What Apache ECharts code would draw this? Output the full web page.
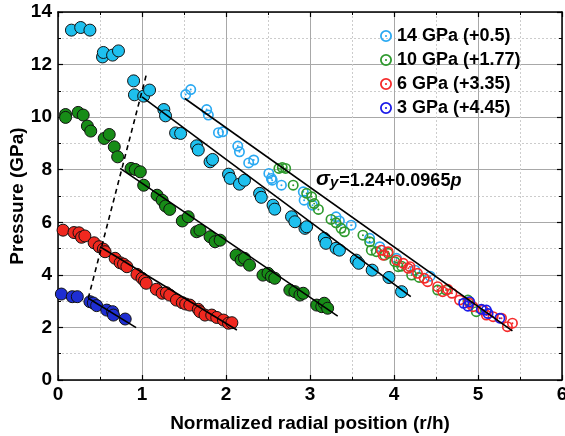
<!DOCTYPE html>
<html>
<head>
<meta charset="utf-8">
<script src="https://cdn.jsdelivr.net/npm/echarts@6/dist/echarts.min.js"></script>
<style>html,body{margin:0;padding:0;background:#fff}#c{width:565px;height:436px}</style>
</head>
<body>
<div id="c"></div>
<script>
// ---- data ----
const legendNames = ['14 GPa (+0.5)', '10 GPa (+1.77)', '6 GPa (+3.35)', '3 GPa (+4.45)'];

const filled14 = [[0.16,13.31],[0.27,13.41],[0.38,13.31],[0.53,12.29],[0.54,12.46],[0.65,12.36],[0.72,12.52],[0.90,11.38],[0.91,10.85],[1.02,10.80],[1.09,11.03],[1.26,10.29],[1.28,10.05],[1.40,9.40],[1.46,9.38],[1.65,8.91],[1.67,8.75],[1.81,8.30],[1.84,8.39],[2.03,7.83],[2.05,7.67],[2.16,7.45],[2.22,7.60],[2.40,7.10],[2.42,6.95],[2.56,6.65],[2.58,6.50],[2.78,6.21],[2.82,6.02],[2.94,5.77],[2.96,5.83],[3.17,5.39],[3.19,5.20],[3.31,5.01],[3.35,4.94],[3.55,4.56],[3.58,4.44],[3.74,4.18],[3.94,3.90],[4.09,3.36]];
const filled10 = [[0.09,10.10],[0.09,9.99],[0.24,10.18],[0.30,10.08],[0.35,9.66],[0.39,9.47],[0.55,9.19],[0.61,9.34],[0.67,8.87],[0.71,8.49],[0.87,8.05],[0.92,8.01],[0.98,7.92],[1.02,7.41],[1.18,7.03],[1.24,6.84],[1.28,6.62],[1.33,6.49],[1.48,6.05],[1.55,6.21],[1.65,5.64],[1.69,5.70],[1.81,5.45],[1.87,5.26],[1.93,5.32],[2.12,4.75],[2.18,4.56],[2.22,4.63],[2.28,4.37],[2.44,3.99],[2.50,4.06],[2.54,3.93],[2.58,3.87],[2.76,3.42],[2.82,3.36],[2.88,3.23],[2.92,3.30],[3.08,2.85],[3.14,2.79],[3.17,2.92],[3.21,2.73]];
const filled6 = [[0.06,5.70],[0.19,5.61],[0.25,5.60],[0.28,5.43],[0.32,5.48],[0.43,5.22],[0.49,5.07],[0.54,4.98],[0.56,4.88],[0.68,4.63],[0.74,4.46],[0.78,4.41],[0.82,4.31],[0.94,4.02],[1.00,3.87],[1.03,3.78],[1.05,3.68],[1.17,3.45],[1.24,3.30],[1.29,3.32],[1.33,3.23],[1.41,3.04],[1.48,2.94],[1.52,2.89],[1.57,2.85],[1.67,2.69],[1.69,2.60],[1.75,2.47],[1.83,2.47],[1.89,2.38],[1.97,2.28],[2.03,2.16],[2.07,2.18]];
const filled3 = [[0.04,3.27],[0.17,3.17],[0.23,3.17],[0.38,2.98],[0.42,2.93],[0.46,2.83],[0.58,2.66],[0.65,2.60],[0.66,2.47],[0.80,2.32]];

const open14 = [[1.52,10.86],[1.58,11.05],[1.77,10.29],[1.79,10.08],[1.91,9.41],[1.96,9.44],[2.14,8.90],[2.16,8.68],[2.27,8.26],[2.33,8.37],[2.51,7.86],[2.54,7.67],[2.55,7.60],[2.66,7.41],[2.92,7.16],[2.93,6.84],[3.03,6.65],[3.31,6.21],[3.35,6.05],[3.49,5.89],[3.71,5.39],[3.83,5.07],[4.03,4.63],[4.25,4.18],[4.43,3.95]];
const open10 = [[2.63,8.05],[2.67,8.08],[2.71,8.05],[2.80,7.41],[2.96,7.10],[3.02,6.97],[3.05,6.71],[3.10,6.49],[3.25,6.11],[3.31,5.98],[3.37,5.77],[3.41,5.64],[3.63,5.51],[3.71,5.26],[3.73,4.94],[3.79,4.88],[3.89,4.75],[3.93,4.82],[4.01,4.50],[4.05,4.31],[4.09,4.33],[4.21,3.99],[4.30,3.90],[4.52,3.42],[4.62,3.42],[4.88,3.04],[4.98,2.60]];
const open6 = [[3.85,4.94],[3.93,4.88],[3.87,4.75],[4.03,4.56],[4.11,4.44],[4.17,4.25],[4.19,4.31],[4.28,4.06],[4.36,3.87],[4.40,3.74],[4.52,3.55],[4.58,3.36],[4.64,3.45],[4.69,3.30],[4.78,3.04],[4.90,2.92],[4.94,2.79],[5.06,2.66],[5.10,2.47],[5.18,2.41],[5.28,2.35],[5.35,2.03],[5.41,2.16]];
const open3 = [[4.83,2.92],[4.90,2.98],[4.88,2.81],[5.04,2.69],[5.10,2.66],[5.12,2.53],[5.26,2.35]];

const fit14 = [[1.00,10.77],[4.20,3.17]];
const fit10 = [[0.74,8.05],[3.33,2.43]];
const fit6 = [[0.50,5.07],[2.13,1.90]];
const fit3 = [[0.36,3.11],[0.93,1.99]];
const onsetLine = [[0.36,3.11],[1.05,11.60]];
const masterFit = [[1.51,10.71],[5.41,1.87]];

const xTicks = [0,1,2,3,4,5,6];
const yTicks = [0,2,4,6,8,10,12,14];
const formulaText = '{a|σ}{b|y}{c|=1.24+0.0965}{d|p}';

// ---- chart ----
const FONT = 'Liberation Sans, Arial, sans-serif';
const ringPath = 'path://M10,0A10,10 0 1,1 10,20A10,10 0 1,1 10,0Z M10,3A7,7 0 1,0 10,17A7,7 0 1,0 10,3Z M10,8.2A1.8,1.8 0 1,1 10,11.8A1.8,1.8 0 1,1 10,8.2Z';

const filledColors = ['#1EC0EE', '#178C17', '#F0281F', '#1E2ED2'];
const openColors = ['#2AA9F2', '#2E9A2E', '#F52A2A', '#1A1AE8'];

function filledSeries(data, color) {
  return { type: 'scatter', data: data, symbol: 'circle', symbolSize: 12,
    itemStyle: { color: color, borderColor: '#111', borderWidth: 1, opacity: 1 }, z: 2, silent: true };
}
function openSeries(name, data, color) {
  return { type: 'scatter', name: name, data: data, symbol: ringPath, symbolSize: 11,
    itemStyle: { color: color, opacity: 1 }, z: 3, silent: true };
}
function lineSeries(data, dashed) {
  return { type: 'line', data: data, showSymbol: false, symbol: 'none', z: 5, silent: true,
    lineStyle: { color: '#000', width: 1.6, type: dashed ? [5, 4] : 'solid' } };
}

const axisLineStyle = { color: '#000', width: 1.5 };
const labelStyle = { fontFamily: FONT, fontWeight: 'bold', fontSize: 19, color: '#000' };

const option = {
  animation: false,
  backgroundColor: '#fff',
  grid: { left: 58, right: 3, top: 12, bottom: 56, containLabel: false, outerBoundsMode: 'none' },
  legend: {
    orient: 'vertical', left: 380, top: 27, itemGap: 6, itemWidth: 12, itemHeight: 12,
    padding: 0, selectedMode: false,
    textStyle: { fontFamily: FONT, fontWeight: 'bold', fontSize: 18, color: '#000' },
    data: legendNames.map(n => ({ name: n, icon: ringPath }))
  },
  xAxis: [
    { type: 'value', min: xTicks[0], max: xTicks[xTicks.length - 1], interval: 1, position: 'bottom',
      name: 'Normalized radial position (r/h)', nameLocation: 'middle', nameGap: 34, nameMoveOverlap: false,
      nameTextStyle: { fontFamily: FONT, fontWeight: 'bold', fontSize: 19, color: '#000' },
      axisLine: { onZero: false, lineStyle: axisLineStyle },
      axisTick: { inside: true, length: 5, lineStyle: { color: '#000', width: 1.2 } },
      minorTick: { show: true, splitNumber: 2, length: 3, lineStyle: { color: '#000' } },
      axisLabel: Object.assign({ margin: 5 }, labelStyle),
      splitLine: { show: true, lineStyle: { color: '#a8a8a8', width: 1 } },
      minorSplitLine: { show: true, lineStyle: { color: '#cccccc', width: 1, type: [2, 2] } } },
    { type: 'value', min: xTicks[0], max: xTicks[xTicks.length - 1], interval: 1, position: 'top',
      axisLine: { onZero: false, lineStyle: axisLineStyle },
      axisTick: { inside: true, length: 5, lineStyle: { color: '#000', width: 1.2 } },
      minorTick: { show: true, splitNumber: 2, length: 3, lineStyle: { color: '#000' } },
      axisLabel: { show: false }, splitLine: { show: false } }
  ],
  yAxis: [
    { type: 'value', min: yTicks[0], max: yTicks[yTicks.length - 1], interval: 2, position: 'left',
      name: 'Pressure (GPa)', nameLocation: 'middle', nameGap: 31, nameRotate: 90, nameMoveOverlap: false,
      nameTextStyle: { fontFamily: FONT, fontWeight: 'bold', fontSize: 19, color: '#000' },
      axisLine: { onZero: false, lineStyle: axisLineStyle },
      axisTick: { inside: true, length: 5, lineStyle: { color: '#000', width: 1.2 } },
      minorTick: { show: true, splitNumber: 2, length: 3, lineStyle: { color: '#000' } },
      axisLabel: Object.assign({ margin: 6 }, labelStyle),
      splitLine: { show: true, lineStyle: { color: '#a8a8a8', width: 1 } },
      minorSplitLine: { show: true, lineStyle: { color: '#cccccc', width: 1, type: [2, 2] } } },
    { type: 'value', min: yTicks[0], max: yTicks[yTicks.length - 1], interval: 2, position: 'right',
      axisLine: { onZero: false, lineStyle: axisLineStyle },
      axisTick: { inside: true, length: 5, lineStyle: { color: '#000', width: 1.2 } },
      minorTick: { show: true, splitNumber: 2, length: 3, lineStyle: { color: '#000' } },
      axisLabel: { show: false }, splitLine: { show: false } }
  ],
  graphic: [{
    type: 'text', left: 316, top: 169, z: 10,
    style: {
      text: formulaText,
      rich: {
        a: { fontFamily: FONT, fontSize: 21, fontStyle: 'italic', fontWeight: 'bold', fill: '#000', verticalAlign: 'bottom', lineHeight: 22 },
        b: { fontFamily: FONT, fontSize: 15, fontStyle: 'italic', fontWeight: 'bold', fill: '#000', verticalAlign: 'bottom', lineHeight: 14, padding: [0, 1, 0, 0] },
        c: { fontFamily: FONT, fontSize: 18, fontWeight: 'bold', fill: '#000', verticalAlign: 'bottom', lineHeight: 22 },
        d: { fontFamily: FONT, fontSize: 18, fontStyle: 'italic', fontWeight: 'bold', fill: '#000', verticalAlign: 'bottom', lineHeight: 22 }
      }
    }
  }],
  series: [
    filledSeries(filled14, filledColors[0]),
    filledSeries(filled10, filledColors[1]),
    filledSeries(filled6, filledColors[2]),
    filledSeries(filled3, filledColors[3]),
    openSeries(legendNames[0], open14, openColors[0]),
    openSeries(legendNames[1], open10, openColors[1]),
    openSeries(legendNames[2], open6, openColors[2]),
    openSeries(legendNames[3], open3, openColors[3]),
    lineSeries(fit14), lineSeries(fit10), lineSeries(fit6), lineSeries(fit3),
    lineSeries(onsetLine, true),
    lineSeries(masterFit)
  ]
};

const chart = echarts.init(document.getElementById('c'), null, { renderer: 'canvas' });
chart.setOption(option);
</script>
</body>
</html>
